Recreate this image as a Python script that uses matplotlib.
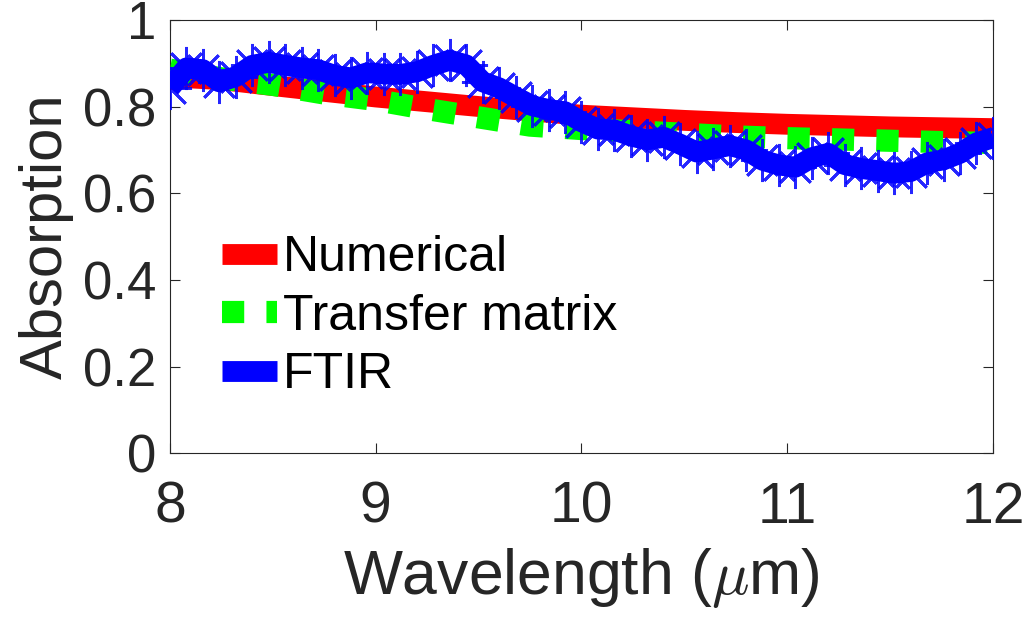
import numpy as np
import matplotlib
matplotlib.use("Agg")
from matplotlib import pyplot as plt
from matplotlib.lines import Line2D

plt.rcParams['font.family'] = ['Liberation Sans', 'DejaVu Sans']
plt.rcParams['mathtext.fontset'] = 'cm'

# Numerical (simulation)
wl_num = [8.0, 8.1, 8.25, 8.45, 8.75, 9.0, 9.25, 9.5, 9.75, 10.0, 10.25,
          10.5, 10.75, 11.0, 11.25, 11.5, 11.75, 12.0]
abs_num = [0.862, 0.866, 0.862, 0.851, 0.835, 0.822, 0.811, 0.800, 0.790,
           0.780, 0.774, 0.768, 0.763, 0.759, 0.756, 0.753, 0.751, 0.749]

# Transfer matrix
wl_tm = [8.0, 8.25, 8.5, 8.75, 9.0, 9.25, 9.5, 9.75, 10.0, 10.25, 10.5,
         10.75, 11.0, 11.25, 11.5, 11.75, 12.0]
abs_tm = [0.885, 0.865, 0.850, 0.830, 0.815, 0.794, 0.775, 0.756, 0.748,
          0.743, 0.737, 0.731, 0.727, 0.724, 0.721, 0.718, 0.716]

# FTIR measurement
wl_ftir = [8.00, 8.08, 8.16, 8.24, 8.32, 8.40, 8.48, 8.56, 8.64, 8.72, 8.80,
           8.88, 8.96, 9.04, 9.12, 9.20, 9.28, 9.36, 9.44, 9.52, 9.60, 9.68,
           9.76, 9.84, 9.92, 10.00, 10.08, 10.16, 10.24, 10.32, 10.40, 10.48,
           10.56, 10.64, 10.72, 10.80, 10.88, 10.96, 11.04, 11.12, 11.20,
           11.28, 11.36, 11.44, 11.52, 11.60, 11.68, 11.76, 11.84, 11.92, 12.00]
abs_ftir = [0.843, 0.889, 0.885, 0.857, 0.869, 0.895, 0.902, 0.895, 0.889,
            0.885, 0.872, 0.866, 0.878, 0.875, 0.874, 0.880, 0.895, 0.907,
            0.896, 0.857, 0.843, 0.822, 0.802, 0.793, 0.788, 0.765, 0.748,
            0.746, 0.732, 0.723, 0.729, 0.713, 0.695, 0.702, 0.710, 0.700,
            0.676, 0.665, 0.660, 0.682, 0.692, 0.666, 0.657, 0.652, 0.646,
            0.650, 0.670, 0.677, 0.692, 0.716, 0.728]

fig = plt.figure(figsize=(10.3, 6.2), dpi=100)
ax = fig.add_axes([0.165, 0.269, 0.799, 0.699])

ax.plot(wl_num, abs_num, color='red', lw=15, solid_capstyle='butt', zorder=2)
ax.plot(wl_tm, abs_tm, color='#00ff00', lw=16, linestyle=(0, (1, 1)),
        dash_capstyle='butt', zorder=3)
ax.plot(wl_ftir, abs_ftir, color='blue', lw=15, solid_capstyle='butt', zorder=4)
ax.plot(wl_ftir, abs_ftir, linestyle='none', marker=(8, 2, 0), markersize=31,
        markeredgewidth=2.0, color='blue', alpha=0.85, zorder=5)

ax.set_xlim(8, 12)
ax.set_ylim(0, 1)
ax.set_xticks([8, 9, 10, 11, 12])
ax.set_yticks([0, 0.2, 0.4, 0.6, 0.8, 1])
ax.set_yticklabels(['0', '0.2', '0.4', '0.6', '0.8', '1'])

axcol = '#262626'
for s in ax.spines.values():
    s.set_color(axcol)
    s.set_linewidth(0.8)
ax.tick_params(direction='in', length=7, width=0.8, colors=axcol,
               labelsize=38, top=True, right=True, pad=10)
ax.tick_params(axis='x', labelsize=41, pad=20)
ax.set_xlabel('Wavelength ($\\mu$m)', fontsize=45, color=axcol, labelpad=8)
ax.set_ylabel('Absorption', fontsize=43, color=axcol, labelpad=6)

handles = [
    Line2D([], [], color='red', lw=15, solid_capstyle='butt'),
    Line2D([], [], color='#00ff00', lw=16, linestyle=(0, (1, 1)), dash_capstyle='butt'),
    Line2D([], [], color='blue', lw=15, solid_capstyle='butt'),
]
ax.legend(handles, ['Numerical', 'Transfer matrix', 'FTIR'],
          loc='center left', bbox_to_anchor=(0.063, 0.315), frameon=False,
          fontsize=36, handlelength=1.1, handletextpad=0.12,
          labelspacing=0.25, borderpad=0, borderaxespad=0)

fig.savefig('out.png', dpi=100)
